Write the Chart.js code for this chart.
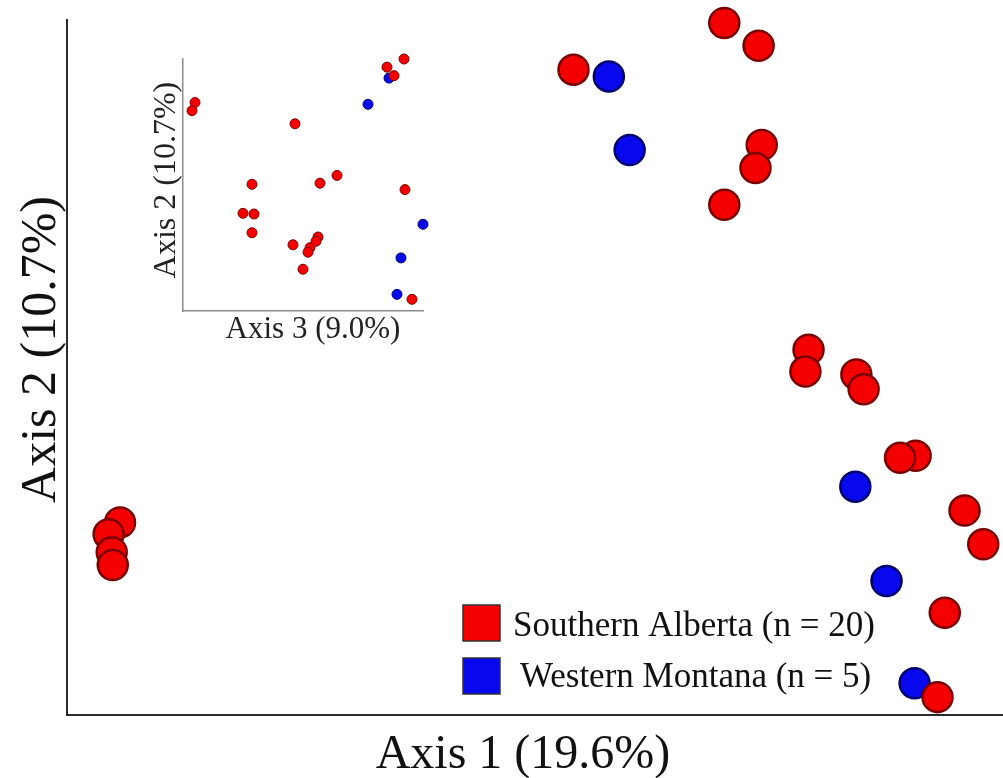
<!DOCTYPE html>
<html>
<head>
<meta charset="utf-8">
<script src="https://cdn.jsdelivr.net/npm/chart.js@4/dist/chart.umd.min.js"></script>
<style>
  html, body { margin: 0; padding: 0; background: #ffffff; }
  #wrap { position: relative; width: 1003px; height: 778px; overflow: hidden; }
  #main { position: absolute; left: 0; top: 0; }
  #inset { position: absolute; left: 130px; top: 40px; }
</style>
</head>
<body>
<div id="wrap">
  <canvas id="main" width="1003" height="778"></canvas>
  <canvas id="inset" width="320" height="310"></canvas>
</div>
<script>
// PCoA sample scores per group
const groupNames = ['Southern Alberta', 'Western Montana'];
const groupSizes = [20, 5];
const axisTitles = ['Axis 1 (19.6%)', 'Axis 2 (10.7%)', 'Axis 3 (9.0%)'];

const albertaAxis1 = [0.232, 0.265, 0.087, 0.268, 0.262, 0.232, 0.313, 0.310, 0.359, 0.366,
                      0.416, 0.401, 0.463, 0.481, 0.444, 0.437, -0.349, -0.360, -0.357, -0.356];
const albertaAxis2 = [0.347, 0.324, 0.300, 0.224, 0.201, 0.164, 0.018, -0.004, -0.007, -0.022,
                      -0.089, -0.091, -0.144, -0.178, -0.247, -0.332, -0.156, -0.168, -0.186, -0.199];
const albertaAxis3 = [0.2525, 0.21, 0.2275, -0.27, -0.2775, -0.02, 0.085, 0.0425, -0.1275, 0.255,
                      -0.15, -0.1225, -0.1275, -0.025, 0.0, 0.2725, 0.0375, 0.0325, 0.0175, 0.0125];

const montanaAxis1 = [0.121, 0.141, 0.358, 0.388, 0.415];
const montanaAxis2 = [0.293, 0.219, -0.120, -0.215, -0.318];
const montanaAxis3 = [0.215, 0.1625, 0.30, 0.245, 0.235];

const RED = '#f50000', RED_EDGE = '#7a0000';
const BLUE = '#0808ee', BLUE_EDGE = '#00006e';
const SERIF = '"Liberation Serif", "DejaVu Serif", serif';

function pairs(xs, ys) { return xs.map((x, i) => ({ x: x, y: ys[i] })); }

function groupDatasets(xa, xb, radius, border) {
  // Alberta first so its markers sit on top of Montana's where they overlap
  return [
    { label: groupNames[0], data: pairs(xa, albertaAxis2), backgroundColor: RED, borderColor: RED_EDGE,
      borderWidth: border, pointRadius: radius, pointHoverRadius: radius, clip: false },
    { label: groupNames[1], data: pairs(xb, montanaAxis2), backgroundColor: BLUE, borderColor: BLUE_EDGE,
      borderWidth: border, pointRadius: radius, pointHoverRadius: radius, clip: false }
  ];
}

function bareAxis(min, max, color, width, horizontal) {
  return {
    type: 'linear', min: min, max: max,
    grid: { display: false },
    ticks: { display: false },
    border: { display: true, color: color, width: width },
    afterFit: horizontal ? (s) => { s.height = 0; } : (s) => { s.width = 0; }
  };
}

// Axis titles placed around the plot area
const axisTitlePlugin = {
  id: 'axisTitles',
  afterDraw(chart, args, opts) {
    const ctx = chart.ctx, a = chart.chartArea;
    ctx.save();
    ctx.fillStyle = opts.color;
    ctx.textAlign = 'center';
    ctx.textBaseline = 'alphabetic';
    ctx.font = opts.xSize + 'px ' + SERIF;
    ctx.fillText(opts.xText, (a.left + a.right) / 2 + opts.xShift, a.bottom + opts.xDrop);
    ctx.translate(a.left - opts.yGap, (a.top + a.bottom) / 2 + opts.yShift);
    ctx.rotate(-Math.PI / 2);
    ctx.font = opts.ySize + 'px ' + SERIF;
    ctx.fillText(opts.yText, 0, 0);
    ctx.restore();
  }
};

// Square-swatch legend in the lower right of the main plot
const boxLegendPlugin = {
  id: 'boxLegend',
  afterDraw(chart) {
    const ctx = chart.ctx, a = chart.chartArea;
    const rows = [
      { fill: RED, edge: RED_EDGE, text: groupNames[0] + ' (n = ' + groupSizes[0] + ')', top: a.bottom - 110, base: a.bottom - 79, tx: 513 },
      { fill: BLUE, edge: BLUE_EDGE, text: groupNames[1] + ' (n = ' + groupSizes[1] + ')', top: a.bottom - 57, base: a.bottom - 28, tx: 520 }
    ];
    ctx.save();
    rows.forEach(r => {
      ctx.fillStyle = r.fill;
      ctx.fillRect(463, r.top, 37, 36);
      ctx.strokeStyle = '#333333';
      ctx.lineWidth = 1.5;
      ctx.strokeRect(463, r.top, 37, 36);
      ctx.fillStyle = '#111111';
      ctx.font = '35px ' + SERIF;
      ctx.textAlign = 'left';
      ctx.textBaseline = 'alphabetic';
      ctx.fillText(r.text, r.tx, r.base);
    });
    ctx.restore();
  }
};

const common = {
  responsive: false,
  animation: false,
  events: []
};

new Chart(document.getElementById('main'), {
  type: 'scatter',
  data: { datasets: groupDatasets(albertaAxis1, montanaAxis1, 15, 2.5) },
  options: Object.assign({}, common, {
    layout: { autoPadding: false, padding: { left: 67, top: 20, right: 0, bottom: 63 } },
    scales: {
      x: bareAxis(-0.4, 0.5, '#2b2b2b', 2, true),
      y: bareAxis(-0.35, 0.35, '#2b2b2b', 2, false)
    },
    plugins: {
      legend: { display: false }, tooltip: { enabled: false },
      axisTitles: { color: '#111111', xText: axisTitles[0], xSize: 48, xShift: -12, xDrop: 53,
                    yText: axisTitles[1], ySize: 50, yGap: 12, yShift: -18 }
    }
  }),
  plugins: [axisTitlePlugin, boxLegendPlugin]
});

new Chart(document.getElementById('inset'), {
  type: 'scatter',
  data: { datasets: groupDatasets(albertaAxis3, montanaAxis3, 5, 1) },
  options: Object.assign({}, common, {
    layout: { autoPadding: false, padding: { left: 53, top: 19, right: 27, bottom: 39 } },
    scales: {
      x: bareAxis(-0.3, 0.3, '#8c8c8c', 1.5, true),
      y: bareAxis(-0.365, 0.347, '#8c8c8c', 1.5, false)
    },
    plugins: {
      legend: { display: false }, tooltip: { enabled: false },
      axisTitles: { color: '#222222', xText: axisTitles[2], xSize: 31, xShift: 10, xDrop: 27,
                    yText: axisTitles[1], ySize: 32, yGap: 8, yShift: -5 }
    }
  }),
  plugins: [axisTitlePlugin]
});
</script>
</body>
</html>
